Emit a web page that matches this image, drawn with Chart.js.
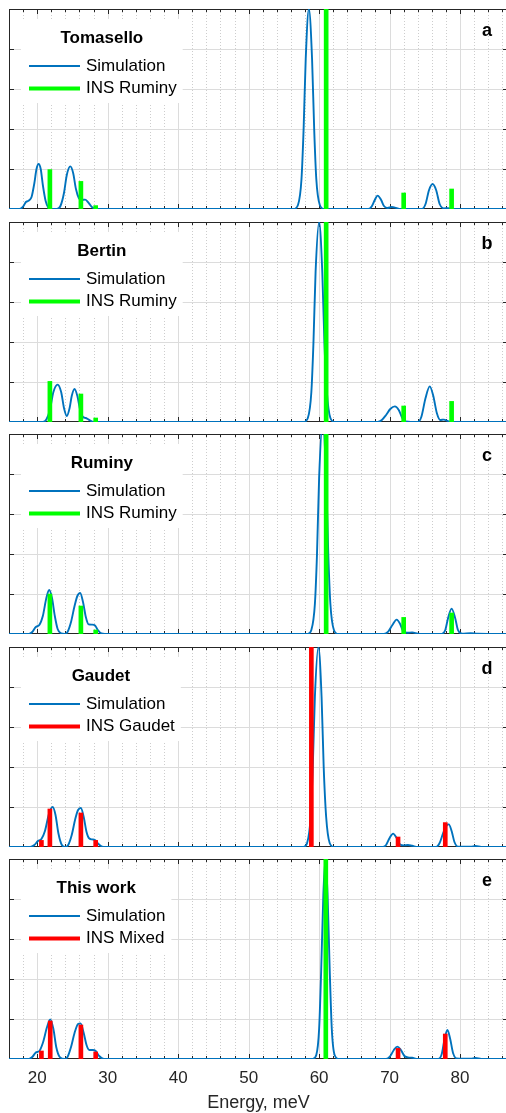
<!DOCTYPE html>
<html>
<head>
<meta charset="utf-8">
<script src="https://cdn.jsdelivr.net/npm/chart.js@4.4.0/dist/chart.umd.min.js"></script>
<style>
  html, body { margin: 0; padding: 0; background: #fff; width: 506px; height: 1113px; overflow: hidden; }
  canvas { position: absolute; left: 0; display: block; }
</style>
</head>
<body>
<canvas id="pa" width="508" height="206"></canvas>
<canvas id="pb" width="508" height="206"></canvas>
<canvas id="pc" width="508" height="206"></canvas>
<canvas id="pd" width="508" height="206"></canvas>
<canvas id="pe" width="508" height="257"></canvas>
<script>
//axis ticks (meV)
const xMajorTicks = [20, 30, 40, 50, 60, 70, 80];
const xMinorTicks = [18, 22, 24, 26, 28, 32, 34, 36, 38, 42, 44, 46, 48, 52, 54, 56, 58, 62, 64, 66, 68, 72, 74, 76, 78, 82, 84, 86];
const yTicks = [0.2, 0.4, 0.6, 0.8];

//panel names
const panelTitles = ["Tomasello", "Bertin", "Ruminy", "Gaudet", "This work"];
const panelLetters = ["a", "b", "c", "d", "e"];
const insLabels = ["INS Ruminy", "INS Ruminy", "INS Ruminy", "INS Gaudet", "INS Mixed"];

//simulated spectra, [energy meV, intensity]
const simTomasello = [[16,0],[17.5,0],[18.0,0.012],[18.4,0.035],[18.8,0.042],[19.2,0.06],[19.6,0.13],[19.9,0.2],[20.2,0.225],[20.5,0.2],[20.8,0.12],[21.2,0.04],[21.6,0.006],[22.0,0],[22.8,0],[23.3,0.015],[23.8,0.08],[24.2,0.17],[24.7,0.213],[25.1,0.18],[25.5,0.1],[25.9,0.055],[26.3,0.045],[26.8,0.047],[27.2,0.035],[27.7,0.012],[28.3,0],[56.4,0],[57.0,0.02],[57.5,0.15],[57.8,0.4],[58.1,0.75],[58.55,1.0],[59.0,0.75],[59.3,0.4],[59.6,0.15],[60.1,0.02],[60.7,0],[67.0,0],[67.5,0.015],[67.9,0.045],[68.3,0.067],[68.8,0.045],[69.2,0.015],[69.7,0.005],[70.3,0.01],[70.9,0.006],[71.5,0],[74.6,0],[75.1,0.025],[75.6,0.095],[76.1,0.125],[76.6,0.095],[77.1,0.025],[77.7,0.003],[78.3,0.004],[79.0,0],[86.8,0]];
const simBertin = [[16,0],[20.8,0],[21.3,0.012],[21.8,0.06],[22.3,0.15],[22.9,0.187],[23.4,0.15],[23.8,0.07],[24.2,0.03],[24.6,0.07],[24.9,0.13],[25.3,0.165],[25.7,0.13],[26.1,0.06],[26.5,0.025],[26.9,0.02],[27.3,0.012],[27.8,0.002],[28.3,0],[57.8,0],[58.4,0.02],[58.9,0.15],[59.2,0.4],[59.5,0.75],[60.0,1.0],[60.45,0.75],[60.75,0.4],[61.1,0.15],[61.6,0.02],[62.2,0],[68.3,0],[68.9,0.01],[69.5,0.035],[70.1,0.065],[70.75,0.078],[71.3,0.06],[71.8,0.02],[72.3,0.003],[74.0,0],[74.5,0.025],[75.1,0.12],[75.7,0.178],[76.2,0.13],[76.7,0.045],[77.2,0.01],[77.7,0.012],[78.2,0.006],[78.7,0],[86.8,0]];
const simRuminy = [[16,0],[18.8,0],[19.3,0.01],[19.8,0.035],[20.3,0.045],[20.8,0.09],[21.3,0.18],[21.7,0.22],[22.1,0.18],[22.5,0.09],[22.9,0.025],[23.4,0.003],[23.9,0],[24.3,0.01],[24.8,0.06],[25.3,0.14],[25.7,0.19],[26.1,0.205],[26.5,0.16],[26.9,0.085],[27.3,0.048],[27.8,0.047],[28.2,0.043],[28.6,0.02],[29.1,0.003],[29.6,0],[58.4,0],[58.9,0.02],[59.4,0.15],[59.7,0.4],[60.0,0.78],[60.5,1.06],[61.0,0.78],[61.3,0.4],[61.6,0.15],[62.1,0.02],[62.7,0],[69.2,0],[69.8,0.012],[70.4,0.045],[71.0,0.072],[71.5,0.05],[71.9,0.015],[72.5,0.006],[73.2,0.008],[74.0,0.002],[74.6,0],[77.4,0],[77.9,0.02],[78.3,0.08],[78.8,0.127],[79.3,0.08],[79.7,0.02],[80.3,0.002],[81.5,0.004],[82.5,0.001],[86.8,0]];
const simGaudet = [[16,0],[19.0,0],[19.6,0.01],[20.1,0.03],[20.6,0.04],[21.1,0.08],[21.7,0.17],[22.2,0.2],[22.6,0.16],[23.0,0.07],[23.5,0.01],[24.0,0],[24.4,0.01],[24.9,0.06],[25.4,0.14],[25.8,0.185],[26.2,0.195],[26.6,0.15],[27.0,0.075],[27.4,0.042],[27.8,0.038],[28.2,0.035],[28.7,0.015],[29.2,0.002],[29.7,0],[57.8,0],[58.3,0.02],[58.8,0.15],[59.1,0.4],[59.4,0.75],[59.9,1.0],[60.35,0.75],[60.65,0.4],[61.0,0.15],[61.5,0.02],[62.1,0],[69.0,0],[69.5,0.01],[70.0,0.045],[70.5,0.067],[71.0,0.045],[71.5,0.012],[72.0,0.008],[72.6,0.01],[73.2,0.006],[74.0,0],[76.6,0],[77.1,0.02],[77.6,0.07],[78.1,0.108],[78.4,0.113],[78.8,0.08],[79.2,0.025],[79.7,0.002],[81.5,0.001],[82.2,0.005],[83.0,0],[86.8,0]];
const simThisWork = [[16,0],[18.8,0],[19.3,0.01],[19.8,0.032],[20.3,0.04],[20.8,0.08],[21.4,0.16],[21.85,0.198],[22.3,0.15],[22.7,0.06],[23.2,0.01],[23.9,0],[24.3,0.01],[24.8,0.06],[25.3,0.13],[25.8,0.175],[26.15,0.178],[26.6,0.13],[27.0,0.07],[27.4,0.045],[27.9,0.045],[28.3,0.04],[28.8,0.015],[29.3,0.002],[29.8,0],[59.1,0],[59.6,0.02],[60.0,0.15],[60.3,0.45],[60.6,0.82],[60.9,1.0],[61.2,0.82],[61.5,0.45],[61.8,0.15],[62.2,0.02],[62.8,0],[69.5,0],[70.1,0.015],[70.6,0.045],[71.1,0.062],[71.6,0.045],[72.1,0.015],[72.6,0.008],[73.2,0.006],[74.0,0],[76.9,0],[77.4,0.025],[77.8,0.1],[78.2,0.145],[78.6,0.1],[79.0,0.03],[79.5,0.003],[81.5,0.001],[82.2,0.005],[83.0,0],[86.8,0]];

//INS lines: energies, intensities, source
const insRuminyE = [21.8, 26.2, 28.3, 61.0, 72.0, 78.8];
const insTomaselloI = [0.197, 0.138, 0.017, 1.2, 0.08, 0.1];
const insBertinI = [0.203, 0.14, 0.02, 1.2, 0.08, 0.103];
const insRuminyI = [0.2, 0.14, 0.02, 1.2, 0.083, 0.105];
const insGaudetE = [20.6, 21.8, 26.2, 28.3, 58.9, 71.2, 77.9];
const insGaudetI = [0.033, 0.19, 0.17, 0.033, 1.2, 0.05, 0.122];
const insMixedE = [20.6, 21.85, 26.2, 28.3, 60.95, 71.2, 77.9];
const insMixedI = [0.04, 0.19, 0.17, 0.035, 1.2, 0.053, 0.125];
const insMixedSource = ["Gaudet", "Gaudet", "Gaudet", "Gaudet", "Ruminy", "Gaudet", "Gaudet"];

var FONT = "'Liberation Sans', Arial, Helvetica, sans-serif";
var INK = "#262626";
var BLUE = "rgb(0,114,189)";
var colorOf = { Ruminy: "#00ff00", Gaudet: "#ff0000" };

//matlab-like box, grid, inward ticks and legend
var matlabAxes = {
  id: "matlabAxes",
  beforeDatasetsDraw(chart) {
    var ctx = chart.ctx, a = chart.chartArea;
    var xs = chart.scales.x, ys = chart.scales.y;
    function seg(x1, y1, x2, y2) { ctx.beginPath(); ctx.moveTo(x1, y1); ctx.lineTo(x2, y2); ctx.stroke(); }
    ctx.save();
    ctx.lineWidth = 1;
    //minor grid, dotted
    ctx.strokeStyle = "#cdcdcd";
    ctx.setLineDash([1, 2]);
    xMinorTicks.forEach((v) => { var px = Math.round(xs.getPixelForValue(v)) + 0.5; seg(px, a.top, px, a.bottom); });
    ctx.setLineDash([]);
    //major grid
    ctx.strokeStyle = "#dcdcdc";
    xMajorTicks.forEach((v) => { var px = Math.round(xs.getPixelForValue(v)) + 0.5; seg(px, a.top, px, a.bottom); });
    yTicks.forEach((v) => { var py = Math.round(ys.getPixelForValue(v)) + 0.5; seg(a.left, py, a.right, py); });
    //box
    ctx.strokeStyle = INK;
    ctx.strokeRect(a.left + 0.5, a.top + 0.5, a.right - a.left - 1, a.bottom - a.top - 1);
    //ticks
    xMajorTicks.forEach((v) => {
      var px = Math.round(xs.getPixelForValue(v)) + 0.5;
      seg(px, a.bottom, px, a.bottom - 5); seg(px, a.top, px, a.top + 5);
    });
    xMinorTicks.forEach((v) => {
      var px = Math.round(xs.getPixelForValue(v)) + 0.5;
      seg(px, a.bottom, px, a.bottom - 3); seg(px, a.top, px, a.top + 3);
    });
    yTicks.forEach((v) => {
      var py = Math.round(ys.getPixelForValue(v)) + 0.5;
      seg(a.left, py, a.left + 5, py); seg(a.right, py, a.right - 5, py);
    });
    ctx.restore();
  },
  afterDatasetsDraw(chart, args, opts) {
    var ctx = chart.ctx, a = chart.chartArea;
    var sim = chart.data.datasets[0], ins = chart.data.datasets[1];
    ctx.save();
    ctx.font = "17px " + FONT;
    var textX = a.left + 77;
    var w = Math.max(ctx.measureText(sim.label).width, ctx.measureText(ins.label).width);
    var boxL = a.left + 12, boxR = textX + w + 6;
    ctx.fillStyle = "#fff";
    ctx.fillRect(boxL, a.top + 10, boxR - boxL, 84);
    //legend title
    ctx.fillStyle = "#000";
    ctx.textBaseline = "middle";
    ctx.textAlign = "center";
    ctx.font = "bold 17px " + FONT;
    ctx.fillText(opts.title, (boxL + boxR) / 2, a.top + 29);
    //entries
    ctx.textAlign = "left";
    ctx.font = "17px " + FONT;
    ctx.strokeStyle = sim.borderColor;
    ctx.lineWidth = sim.borderWidth;
    ctx.beginPath(); ctx.moveTo(a.left + 20, a.top + 57); ctx.lineTo(a.left + 71, a.top + 57); ctx.stroke();
    ctx.fillText(sim.label, textX, a.top + 57);
    ctx.strokeStyle = opts.insColor;
    ctx.lineWidth = 4;
    ctx.beginPath(); ctx.moveTo(a.left + 20, a.top + 79.5); ctx.lineTo(a.left + 71, a.top + 79.5); ctx.stroke();
    ctx.fillText(ins.label, textX, a.top + 79.5);
    //panel letter
    ctx.textAlign = "center";
    ctx.font = "bold 18px " + FONT;
    ctx.fillText(opts.letter, a.left + 478, a.top + 22);
    ctx.restore();
  },
};

var panels = [
  { id: "pa", top: 9, sim: simTomasello, insE: insRuminyE, insI: insTomaselloI, src: insRuminyE.map(() => "Ruminy") },
  { id: "pb", top: 222, sim: simBertin, insE: insRuminyE, insI: insBertinI, src: insRuminyE.map(() => "Ruminy") },
  { id: "pc", top: 434, sim: simRuminy, insE: insRuminyE, insI: insRuminyI, src: insRuminyE.map(() => "Ruminy") },
  { id: "pd", top: 647, sim: simGaudet, insE: insGaudetE, insI: insGaudetI, src: insGaudetE.map(() => "Gaudet") },
  { id: "pe", top: 859, sim: simThisWork, insE: insMixedE, insI: insMixedI, src: insMixedSource },
];

panels.forEach((p, i) => {
  var last = i === panels.length - 1;
  var canvas = document.getElementById(p.id);
  canvas.style.top = p.top - 3 + "px";
  var xScale = {
    type: "linear",
    min: 16,
    max: 86.8,
    offset: false,
    display: last,
    grid: { display: false, drawTicks: false, offset: false },
    border: { display: false },
  };
  if (last) {
    xScale.afterBuildTicks = (s) => { s.ticks = xMajorTicks.map((v) => ({ value: v })); };
    xScale.afterFit = (s) => { s.height = 54; };
    xScale.ticks = { font: { family: FONT, size: 17 }, color: INK, padding: 9, maxRotation: 0, autoSkip: false };
    xScale.title = { display: true, text: "Energy, meV", font: { family: FONT, size: 18, lineHeight: 1.1 }, color: INK, padding: { top: 0, bottom: 0 } };
  }
  new Chart(canvas, {
    type: "line",
    data: {
      datasets: [
        {
          type: "line",
          label: "Simulation",
          data: p.sim.map((d) => ({ x: d[0], y: d[1] })),
          borderColor: BLUE,
          borderWidth: 1.9,
          pointRadius: 0,
          cubicInterpolationMode: "monotone",
          fill: false,
          order: 1,
        },
        {
          type: "bar",
          label: insLabels[i],
          data: p.insE.map((e, k) => ({ x: e, y: p.insI[k] })),
          backgroundColor: p.src.map((s) => colorOf[s]),
          barThickness: 4,
          borderWidth: 0,
          order: 0,
        },
      ],
    },
    options: {
      responsive: false,
      animation: false,
      events: [],
      layout: { padding: { left: 9, right: 0, top: 3, bottom: last ? 0 : 3 } },
      scales: {
        x: xScale,
        y: { min: 0, max: 1, display: false },
      },
      plugins: {
        legend: { display: false },
        tooltip: { enabled: false },
        matlabAxes: {
          title: panelTitles[i],
          letter: panelLetters[i],
          insColor: colorOf[p.src[p.src.length - 1]],
        },
      },
    },
    plugins: [matlabAxes],
  });
});
</script>
</body>
</html>
